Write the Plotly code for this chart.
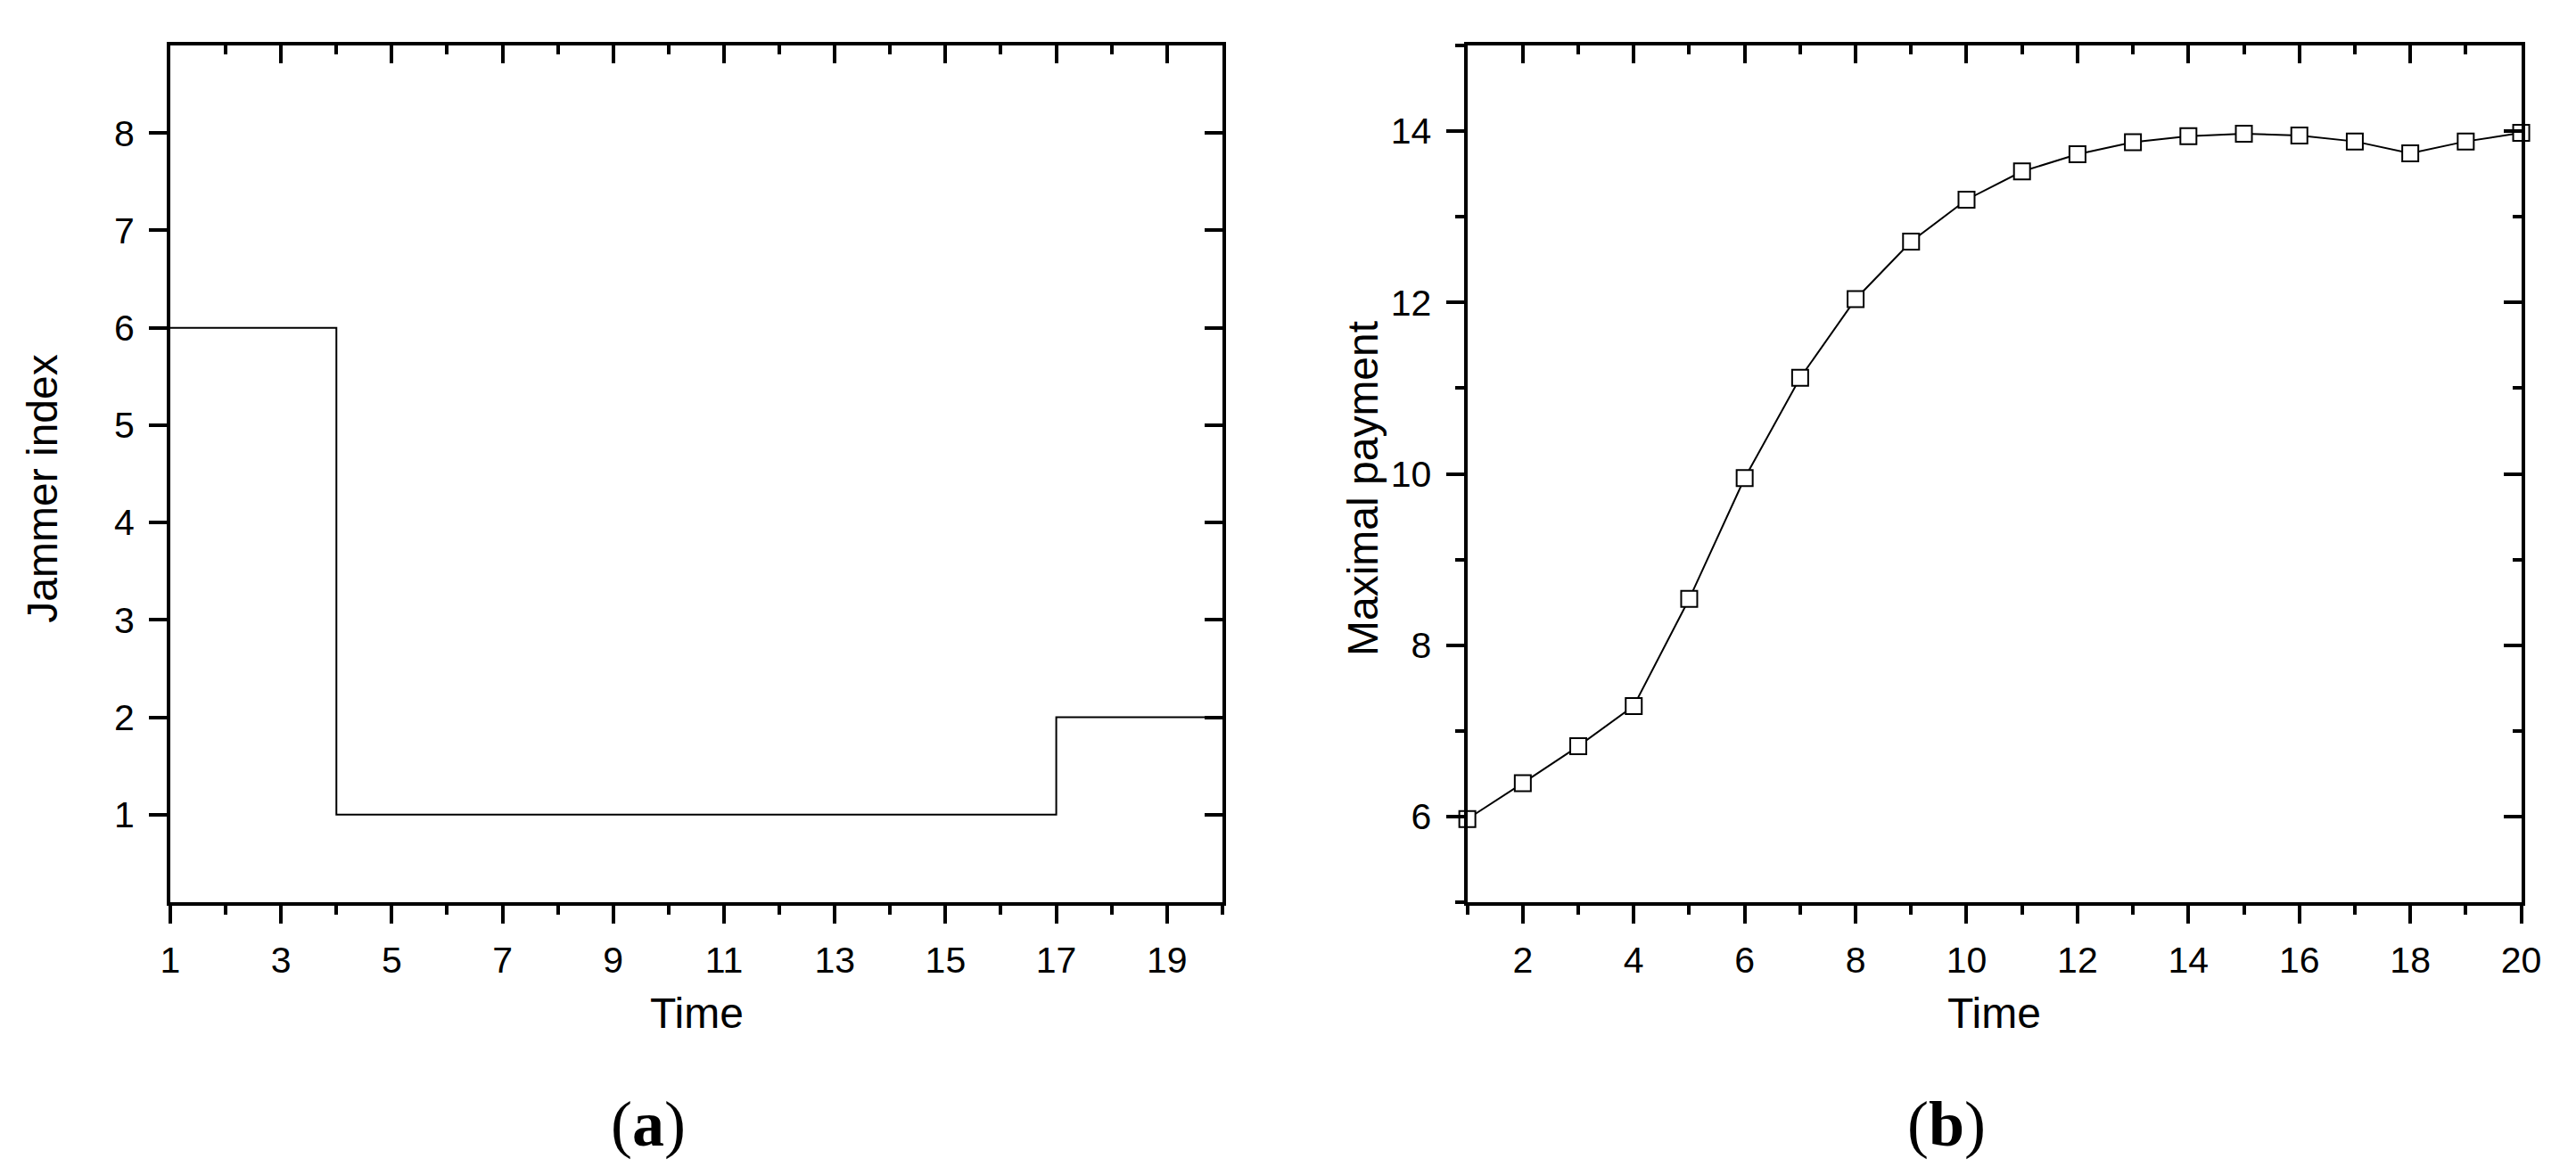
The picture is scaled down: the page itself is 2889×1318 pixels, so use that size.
import plotly.graph_objects as go

W, H = 2889, 1318

# ---------------- data ----------------
time_a = list(range(1, 21))
jammer_index = [6, 6, 6, 1, 1, 1, 1, 1, 1, 1, 1, 1, 1, 1, 1, 1, 2, 2, 2, 2]

time_b = list(range(1, 21))
maximal_payment = [5.97, 6.39, 6.82, 7.29, 8.54, 9.95, 11.12, 12.04, 12.71, 13.20,
                   13.53, 13.73, 13.87, 13.94, 13.97, 13.95, 13.88, 13.74, 13.88, 13.98]

xticks_a = [1, 3, 5, 7, 9, 11, 13, 15, 17, 19]
yticks_a = [1, 2, 3, 4, 5, 6, 7, 8]
xticks_b = [2, 4, 6, 8, 10, 12, 14, 16, 18, 20]
yticks_b = [6, 8, 10, 12, 14]

# ---------------- geometry (pixels) ----------------
def px(x):
    return x / W

def py(y):
    return 1 - y / H

dom_xa = [px(174), px(1368)]
dom_xb = [px(1646), px(2842)]
dom_y = [py(1004), py(43)]

FONT = "Arial, Liberation Sans, sans-serif"
TICKFONT = dict(family=FONT, size=41, color="black")
LW = 4
XSTANDOFF = 6
YSTANDOFF = 8

def axis_common(**kw):
    d = dict(showgrid=False, zeroline=False, showline=True, linecolor="black",
             linewidth=LW, ticklen=20, tickwidth=LW, tickcolor="black",
             tickfont=TICKFONT)
    d.update(kw)
    return d

fig = go.Figure()

fig.add_trace(go.Scatter(x=time_a, y=jammer_index, mode="lines",
                         line=dict(color="black", width=2, shape="hv"),
                         xaxis="x", yaxis="y", showlegend=False))

fig.add_trace(go.Scatter(x=time_b, y=maximal_payment, mode="lines+markers",
                         line=dict(color="black", width=2),
                         marker=dict(symbol="square", size=18, color="white",
                                     line=dict(color="black", width=2)),
                         xaxis="x2", yaxis="y2", showlegend=False,
                         cliponaxis=False))

# empty traces so that the mirrored (top / right) axes get drawn
for xa, ya in [("x3", "y"), ("x", "y3"), ("x4", "y2"), ("x2", "y4")]:
    fig.add_trace(go.Scatter(x=[None], y=[None], mode="lines", xaxis=xa, yaxis=ya,
                             showlegend=False, hoverinfo="skip"))

minor_x = dict(dtick=1, ticklen=10, tickwidth=LW, tickcolor="black")

layout = dict(
    width=W, height=H,
    margin=dict(l=0, r=0, t=0, b=0),
    paper_bgcolor="white", plot_bgcolor="white",
    showlegend=False,
    # ---- panel (a) ----
    xaxis=axis_common(domain=dom_xa, range=[1, 20], anchor="y",
                      tickmode="array", tickvals=xticks_a, ticks="outside",
                      minor=dict(ticks="outside", **minor_x),
                      ticklabelstandoff=XSTANDOFF),
    xaxis3=axis_common(range=[1, 20], anchor="y", overlaying="x", side="top",
                       tickmode="array", tickvals=xticks_a, ticks="inside",
                       minor=dict(ticks="inside", **minor_x),
                       showticklabels=False),
    yaxis=axis_common(domain=dom_y, range=[0.1, 8.9], anchor="x",
                      tickmode="array", tickvals=yticks_a, ticks="outside",
                      ticklabelstandoff=YSTANDOFF),
    yaxis3=axis_common(range=[0.1, 8.9], anchor="x", overlaying="y", side="right",
                       tickmode="array", tickvals=yticks_a, ticks="inside",
                       showticklabels=False),
    # ---- panel (b) ----
    xaxis2=axis_common(domain=dom_xb, range=[1, 20], anchor="y2",
                       tickmode="array", tickvals=xticks_b, ticks="outside",
                       minor=dict(ticks="outside", **minor_x),
                       ticklabelstandoff=XSTANDOFF),
    xaxis4=axis_common(range=[1, 20], anchor="y2", overlaying="x2", side="top",
                       tickmode="array", tickvals=xticks_b, ticks="inside",
                       minor=dict(ticks="inside", **minor_x),
                       showticklabels=False),
    yaxis2=axis_common(domain=dom_y, range=[5, 15], anchor="x2",
                       tickmode="array", tickvals=yticks_b, ticks="outside",
                       minor=dict(ticks="outside", dtick=1, ticklen=10,
                                  tickwidth=LW, tickcolor="black"),
                       ticklabelstandoff=YSTANDOFF),
    yaxis4=axis_common(range=[5, 15], anchor="x2", overlaying="y2", side="right",
                       tickmode="array", tickvals=yticks_b, ticks="inside",
                       minor=dict(ticks="inside", dtick=1, ticklen=10,
                                  tickwidth=LW, tickcolor="black"),
                       showticklabels=False),
)
fig.update_layout(**layout)

TITLEFONT = dict(family=FONT, size=48, color="black")
LABELFONT = dict(family="Liberation Serif, Times New Roman, serif", size=72, color="black")

annotations = [
    dict(text="Time", x=px(772), y=py(1128), font=TITLEFONT),
    dict(text="Time", x=px(2244), y=py(1128), font=TITLEFONT),
    dict(text="Jammer index", x=px(28), y=py(540), textangle=-90, font=TITLEFONT),
    dict(text="Maximal payment", x=px(1527), y=py(540), textangle=-90, font=TITLEFONT),
    dict(text="(<b>a</b>)", x=px(716), y=py(1253), font=LABELFONT),
    dict(text="(<b>b</b>)", x=px(2190), y=py(1253), font=LABELFONT),
]
for a in annotations:
    fig.add_annotation(xref="paper", yref="paper", showarrow=False,
                       xanchor="center", yanchor="middle", **a)

fig.write_html("out.html")
